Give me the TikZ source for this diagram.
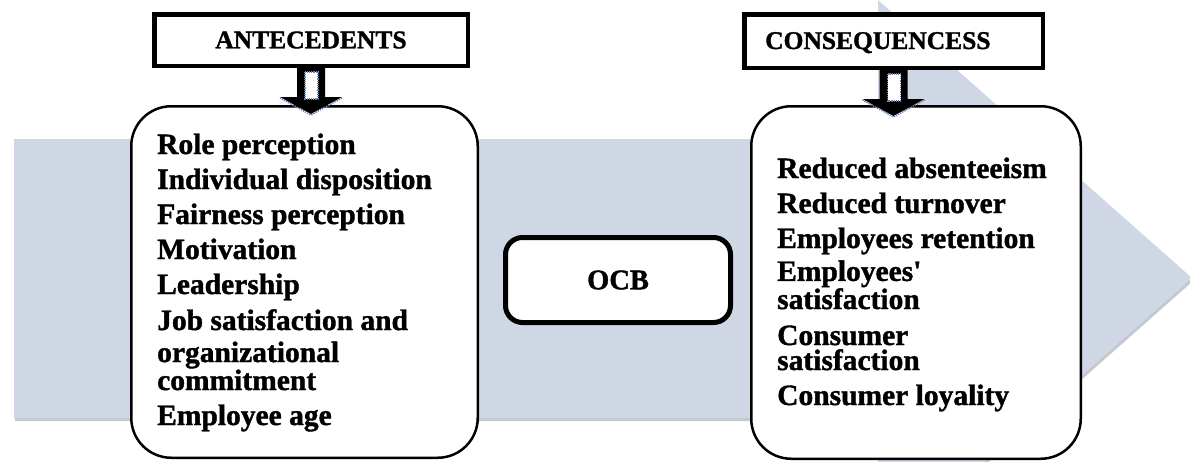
\documentclass[tikz,border=0pt]{standalone}
\usepackage{fontspec}
\setmainfont{Liberation Serif}[BoldFeatures={FakeBold=1.3}]
\usetikzlibrary{calc}

\definecolor{flowfill}{RGB}{207,214,228}
\definecolor{flowshade}{RGB}{150,156,168}
\definecolor{tipdots}{RGB}{110,130,170}

\tikzset{
  hdrbox/.style={draw=black, line width=4.5pt, fill=white, rectangle, inner sep=0pt,
                 font=\fontsize{25.5}{28}\selectfont\bfseries},
  hdrtext/.style={inner sep=0pt, font=\fontsize{25.5}{28}\selectfont\bfseries},
  listbox/.style={draw=black, line width=2.5pt, fill=white, rectangle,
                  rounded corners=40pt, inner sep=0pt},
  corebox/.style={draw=black, line width=5pt, fill=white, rectangle,
                  rounded corners=17pt, inner sep=0pt,
                  font=\fontsize{28.5}{30}\selectfont\bfseries},
  entry/.style={anchor=base west, inner sep=0pt, align=left,
                font=\fontsize{29.5}{25}\selectfont\bfseries},
  blockarrow/.style={fill=black},
  arrowcore/.style={fill=white, draw=tipdots, densely dotted, line width=1.2pt},
  arrowrim/.style={draw=tipdots, densely dotted, line width=1.4pt}
}

\begin{document}
\begin{tikzpicture}[x=1pt, y=-1pt]
\useasboundingbox (0,0) rectangle (1190,461);

% broad flow arrow in the background
\begin{scope}
  \clip (0,0) rectangle (1190,461);
  \fill[flowshade, opacity=0.55] (15,142) -- (879,142) -- (879,3)
        -- (1193,281) -- (879,559) -- (879,421) -- (15,421) -- cycle;
  \fill[flowfill] (14,139) -- (878,139) -- (878,0) -- (1192,278)
        -- (878,556) -- (878,418) -- (14,418) -- cycle;
\end{scope}

% header boxes
\node[hdrbox, minimum width=313.5pt, minimum height=51.5pt] (ant) at (311,40) {ANTECEDENTS};
\node[hdrbox, minimum width=298.5pt, minimum height=53.5pt] (con) at (893.5,41) {};
\node[hdrtext, anchor=base west] (conT) at (765,49) {CONSEQUENCESS};

% list boxes and the central box
\node[listbox, minimum width=346.5pt, minimum height=351.5pt] (lbox) at (304.5,282) {};
\node[listbox, minimum width=329.5pt, minimum height=352.5pt] (rbox) at (916,282.5) {};
\node[corebox, minimum width=225pt, minimum height=85pt] (ocb) at (618,280) {OCB};

% block arrows from the headers down into the list boxes
\foreach \src in {ant, con} {
  \begin{scope}[shift={(\src.south)}]
    \fill[blockarrow] (-14,-2) -- (14,-2) -- (14,29) -- (31,29) -- (0,46)
          -- (-31,29) -- (-14,29) -- cycle;
    \filldraw[arrowcore] (-6,4) rectangle (7,31);
    \draw[arrowrim] (31,30) -- (0,47) -- (-31,30);
  \end{scope}
}

% antecedents (multi-line entries sit on the baseline of their last line)
\node[entry] (a1) at (157,154) {Role perception};
\node[entry] (a2) at (157,189) {Individual disposition};
\node[entry] (a3) at (157,224) {Fairness perception};
\node[entry] (a4) at (157,259) {Motivation};
\node[entry] (a5) at (157,294) {Leadership};
\node[entry] (a6) at (157,330) {Job satisfaction and};
\node[entry] (a7) at (157,390) {organizational\\commitment};
\node[entry] (a8) at (157,425) {Employee age};

% consequences
\node[entry] (c1) at (777,178) {Reduced absenteeism};
\node[entry] (c2) at (777,213) {Reduced turnover};
\node[entry] (c3) at (777,248) {Employees retention};
\node[entry] (c4) at (777,309) {Employees\textquotesingle\\satisfaction};
\node[entry] (c5) at (777,370) {Consumer\\satisfaction};
\node[entry] (c6) at (777,405) {Consumer loyality};
\end{tikzpicture}
\end{document}
